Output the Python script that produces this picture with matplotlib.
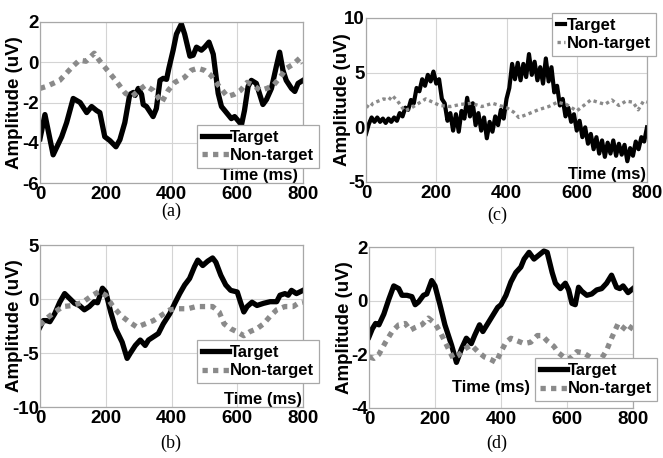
import matplotlib
matplotlib.use("Agg")
import matplotlib.pyplot as plt
import numpy as np

plt.rcParams['font.family'] = ['Liberation Sans', 'DejaVu Sans']
plt.rcParams['axes.unicode_minus'] = False

# ---------------- data ----------------
# Panel (a)
a_target_t = [0, 5, 15, 40, 66, 81, 101, 122, 142, 157, 172, 182, 197, 213, 231, 243, 258, 273, 284, 289,
              299, 309, 314, 324, 344, 354, 365, 375, 385, 392, 405, 415, 430, 440, 456, 466, 476, 491, 501,
              514, 527, 542, 552, 567, 582, 592, 613, 622, 633, 643, 658, 678, 689, 704, 719, 729, 739, 749,
              765, 775, 785, 800]
a_target_v = [-3.8, -3.4, -2.6, -4.6, -3.7, -3.0, -1.8, -2.0, -2.5, -2.2, -2.4, -2.5, -3.7, -3.9, -4.2, -3.85,
              -3.0, -1.6, -1.5, -1.65, -1.3, -1.6, -2.1, -2.2, -2.7, -2.3, -0.9, -0.8, -0.85, -0.3, 0.6, 1.4,
              1.9, 1.4, 0.3, 0.35, 0.75, 0.6, 0.75, 1.0, 0.4, -1.55, -2.2, -2.5, -2.8, -2.7, -3.1, -2.4, -1.2,
              -0.9, -1.05, -2.1, -1.85, -1.3, -0.2, 0.5, -0.4, -0.9, -1.3, -1.45, -1.05, -0.9]
a_nontarget_t = [0, 20, 60, 100, 120, 140, 165, 180, 200, 230, 260, 280, 300, 320, 345, 370, 390, 410, 440,
                 460, 480, 500, 520, 545, 570, 590, 610, 630, 650, 670, 690, 710, 730, 750, 770, 790, 800]
a_nontarget_v = [-1.3, -1.2, -0.9, -0.2, 0.1, 0.05, 0.45, 0.1, -0.3, -0.9, -1.55, -1.7, -1.4, -1.15, -1.4,
                 -2.0, -1.4, -1.0, -0.75, -0.4, -0.3, -0.4, -0.65, -1.2, -1.7, -1.6, -1.4, -1.0, -1.15, -1.4,
                 -1.3, -1.15, -0.75, -0.3, -0.1, 0.2, -0.05]

# Panel (b)
b_target_t = [0, 10, 20, 30, 45, 60, 75, 90, 105, 120, 135, 150, 165, 175, 190, 200, 215, 230, 250, 265, 275,
              290, 305, 320, 330, 345, 360, 375, 395, 410, 425, 440, 455, 470, 480, 495, 510, 525, 535, 550,
              565, 580, 600, 610, 620, 630, 645, 660, 680, 700, 720, 730, 745, 755, 765, 780, 800]
b_target_v = [-2.6, -2.0, -2.0, -2.1, -1.35, -0.3, 0.5, 0.05, -0.4, -0.6, -1.0, -0.7, -0.25, -0.35, 1.0, 0.65,
              -1.2, -2.75, -4.0, -5.5, -5.0, -4.3, -3.8, -4.3, -3.8, -3.5, -3.2, -2.3, -1.35, -0.4, 0.5, 1.3,
              1.9, 3.0, 3.6, 3.1, 3.5, 3.8, 3.4, 2.2, 1.3, 0.8, 0.65, -0.3, -1.2, -0.7, -0.3, -0.6, -0.4,
              -0.25, -0.25, 0.35, 0.5, 0.35, 0.8, 0.5, 0.8]
b_nontarget_t = [0, 20, 45, 70, 100, 130, 160, 180, 200, 220, 245, 270, 295, 320, 345, 370, 395, 420, 450,
                 475, 500, 525, 545, 560, 580, 600, 620, 640, 660, 680, 700, 720, 745, 770, 785, 800]
b_nontarget_v = [-2.4, -1.8, -1.2, -0.7, -0.6, -0.3, 0.35, 0.7, 0.35, -0.6, -1.5, -2.1, -2.6, -2.3, -2.0, -1.5,
                 -1.0, -0.9, -0.9, -0.7, -0.7, -0.7, -1.2, -2.3, -2.75, -3.05, -3.4, -3.0, -2.75, -2.3, -1.6,
                 -1.0, -0.7, -0.7, -0.4, -0.3]

# Panel (c)
c_target_t = list(range(0, 801, 8))
c_target_v = [-0.6, 0.3, 0.9, 0.5, 0.9, 0.5, 0.8, 0.4, 0.8, 0.5, 0.9, 0.6, 1.3, 1.0, 1.8, 1.6, 2.5, 2.2, 3.6,
              3.3, 4.4, 3.8, 4.8, 4.2, 5.1, 4.0, 4.4, 2.6, 2.2, 0.6, 1.3, -0.3, 1.2, -0.4, 1.5, 0.8, 2.7, 1.0,
              2.2, 0.2, 1.3, -0.3, 0.9, -1.0, 0.5, -0.4, 1.0, 0.2, 1.6, 0.8, 2.6, 3.6, 5.8, 4.4, 5.9, 4.3, 5.8,
              4.6, 6.7, 4.8, 6.0, 4.3, 5.5, 4.0, 6.3, 4.2, 5.5, 3.2, 3.8, 2.0, 2.6, 1.0, 1.8, 0.5, 1.2, -0.3,
              0.6, -0.9, 0.0, -1.5, -0.6, -2.0, -0.9, -2.4, -1.2, -2.7, -1.4, -2.4, -1.2, -2.6, -1.5, -2.5,
              -1.6, -3.1, -1.9, -2.6, -1.3, -2.0, -0.9, -1.3, 0.0]
c_nontarget_t = [0, 10, 20, 35, 50, 65, 75, 90, 110, 130, 150, 170, 190, 210, 240, 270, 300, 330, 360, 380,
                 400, 420, 435, 460, 490, 520, 545, 570, 600, 620, 640, 660, 680, 700, 720, 740, 760, 775,
                 790, 800]
c_nontarget_v = [2.0, 1.8, 2.2, 2.4, 2.6, 2.5, 2.9, 2.4, 1.5, 1.8, 2.2, 2.6, 2.3, 2.0, 1.9, 2.1, 2.2, 1.9, 2.2,
                 2.0, 1.8, 1.4, 0.9, 1.2, 1.6, 1.9, 2.3, 2.1, 1.5, 2.0, 2.5, 2.3, 2.1, 2.5, 2.0, 2.4, 2.3, 1.6,
                 2.4, 2.3]

# Panel (d)
d_target_t = [0, 10, 20, 30, 45, 60, 75, 90, 100, 115, 130, 140, 150, 165, 175, 190, 200, 215, 230, 250, 265,
              280, 295, 310, 320, 335, 345, 360, 375, 390, 400, 415, 430, 445, 460, 470, 485, 500, 515, 530,
              540, 555, 565, 580, 595, 605, 615, 625, 635, 645, 660, 675, 690, 705, 720, 735, 750, 760, 770,
              785, 800]
d_target_v = [-1.35, -1.05, -0.85, -0.9, -0.5, 0.05, 0.55, 0.45, 0.2, 0.2, 0.15, -0.15, -0.05, 0.2, 0.25, 0.75,
              0.55, -0.15, -0.9, -1.65, -2.3, -1.8, -1.4, -1.6, -1.3, -0.9, -1.15, -0.85, -0.55, -0.25, -0.15,
              0.2, 0.7, 1.05, 1.25, 1.55, 1.8, 1.55, 1.7, 1.85, 1.8, 1.05, 0.65, 0.45, 0.65, 0.4, -0.1, -0.15,
              0.5, 0.35, 0.2, 0.25, 0.4, 0.45, 0.65, 0.95, 0.5, 0.45, 0.55, 0.3, 0.45]
d_nontarget_t = [0, 15, 30, 50, 70, 90, 110, 125, 140, 160, 180, 200, 215, 235, 255, 270, 290, 310, 330, 350,
                 370, 385, 400, 415, 430, 450, 470, 490, 510, 525, 540, 560, 575, 595, 610, 630, 650, 670,
                 690, 705, 720, 735, 755, 770, 785, 800]
d_nontarget_v = [-2.1, -2.15, -2.0, -1.55, -1.15, -0.9, -0.85, -1.1, -1.0, -0.9, -0.65, -0.85, -1.15, -1.65,
                 -2.15, -2.05, -1.8, -1.65, -1.9, -2.1, -2.2, -2.3, -1.9, -1.55, -1.4, -1.5, -1.6, -1.55, -1.3,
                 -1.3, -1.5, -1.7, -1.95, -2.15, -2.15, -1.9, -1.95, -2.1, -2.3, -2.15, -1.85, -1.4, -0.85,
                 -1.0, -1.15, -0.9]

x_ticks = [0, 200, 400, 600, 800]
a_yticks = [-6, -4, -2, 0, 2]
b_yticks = [-10, -5, 0, 5]
c_yticks = [-5, 0, 5, 10]
d_yticks = [-4, -2, 0, 2]
series_names = ["Target", "Non-target"]
panel_letters = ["(a)", "(b)", "(c)", "(d)"]

# ---------------- figure ----------------
W, H = 663, 458
fig = plt.figure(figsize=(W / 100, H / 100), dpi=100)


def px_axes(l, r, t, b):
    return fig.add_axes([l / W, 1 - b / H, (r - l) / W, (b - t) / H])


GRAY = '#8a8a8a'
LW = 3.8


def style(ax, yticks, ylab_x):
    ax.set_xlim(0, 800)
    ax.set_ylim(yticks[0], yticks[-1])
    ax.set_xticks(x_ticks)
    ax.set_yticks(yticks)
    ax.grid(True, color='#d4d4d4', linewidth=0.8)
    ax.set_axisbelow(True)
    for s in ax.spines.values():
        s.set_color('#a8a8a8')
        s.set_linewidth(0.9)
    ax.tick_params(direction='in', length=0, labelsize=13.5, colors='black')
    ax.tick_params(axis='y', pad=0.8)
    ax.tick_params(axis='x', pad=2)
    for lab in ax.get_xticklabels() + ax.get_yticklabels():
        lab.set_fontweight('bold')
    ax.set_ylabel('Amplitude (uV)', fontsize=13.5, fontweight='bold')
    ax.yaxis.set_label_coords(ylab_x, 0.5)


def add_legend(ax, x0, y0, hl, fs=12):
    leg = ax.legend(loc='upper left', bbox_to_anchor=(x0 / W, 1 - y0 / H),
                    bbox_transform=fig.transFigure, borderaxespad=0,
                    handlelength=hl, handletextpad=0.1, borderpad=0.3,
                    labelspacing=0.2, fancybox=False, framealpha=1,
                    edgecolor='#a8a8a8', prop={'weight': 'bold', 'size': fs})
    leg.get_frame().set_linewidth(0.9)
    return leg


def timelabel(ax, x, y):
    ax.set_xlabel('Time (ms)', fontsize=12, fontweight='bold', ha='right', va='bottom')
    ax.xaxis.set_label_coords(x, y)


def letter(x, y, s):
    fig.text(x / W, 1 - y / H, s, ha='center', va='center', fontsize=13,
             family=['Liberation Serif'])


# (a)
ax = px_axes(40, 303, 22, 183)
style(ax, a_yticks, -0.066)
ax.plot(a_target_t, a_target_v, color='black', lw=LW, label=series_names[0], solid_joinstyle='round')
ax.plot(a_nontarget_t, a_nontarget_v, color=GRAY, lw=LW, ls=(0, (1, 1)), dash_capstyle='butt',
        label=series_names[1])
timelabel(ax, 0.98, 0.0)
add_legend(ax, 197, 125, 1.6)
letter(171, 211, panel_letters[0])

# (c)
ax = px_axes(366, 647, 18, 182)
style(ax, c_yticks, -0.052)
ax.plot(c_target_t, c_target_v, color='black', lw=3.0, label=series_names[0], solid_joinstyle='round')
ax.plot(c_nontarget_t, c_nontarget_v, color=GRAY, lw=2.4, ls=(0, (1, 1)), dash_capstyle='butt',
        label=series_names[1])
timelabel(ax, 0.995, 0.0)
add_legend(ax, 552, 13, 0.5)
letter(497, 215, panel_letters[2])

# (b)
ax = px_axes(40, 303, 245, 407)
style(ax, b_yticks, -0.066)
ax.plot(b_target_t, b_target_v, color='black', lw=LW, label=series_names[0], solid_joinstyle='round')
ax.plot(b_nontarget_t, b_nontarget_v, color=GRAY, lw=LW, ls=(0, (1, 1)), dash_capstyle='butt',
        label=series_names[1])
timelabel(ax, 0.995, 0.0)
add_legend(ax, 197, 340, 1.6)
letter(171, 443, panel_letters[1])

# (d)
ax = px_axes(369, 633, 247, 408)
style(ax, d_yticks, -0.06)
ax.plot(d_target_t, d_target_v, color='black', lw=LW, label=series_names[0], solid_joinstyle='round')
ax.plot(d_nontarget_t, d_nontarget_v, color=GRAY, lw=LW, ls=(0, (1, 1)), dash_capstyle='butt',
        label=series_names[1])
timelabel(ax, 0.61, 0.08)
add_legend(ax, 535, 358, 1.6)
letter(497, 443, panel_letters[3])

fig.savefig('out.png', dpi=100)
